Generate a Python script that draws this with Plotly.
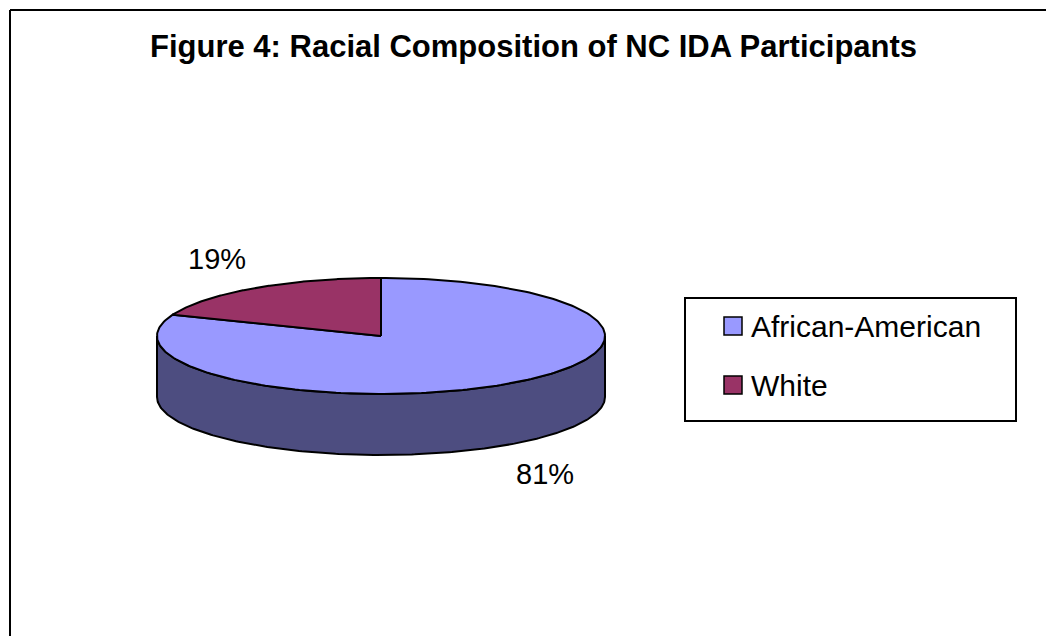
import numpy as np
import plotly.graph_objects as go

# Racial composition of NC IDA participants (percent)
categories = ["African-American", "White"]
shares = [81, 19]
top_colors = ["#9999FF", "#993366"]
side_colors = ["#4D4D80", "#4D1A33"]
title_text = "Figure 4: Racial Composition of NC IDA Participants"

W, H = 1046, 636
FONT = "Arial, Liberation Sans, sans-serif"

# geometry of the tilted pie (pixel space)
cx, cy = 381, 336
rx, ry = 224, 58
depth = 61


def rim(a0, a1, dy=0.0, n=240):
    t = np.radians(np.linspace(a0, a1, n))
    return cx + rx * np.cos(t), cy - ry * np.sin(t) + dy


total = float(sum(shares))
slices = []
start = 90.0
for cat, val, ctop, cside in zip(categories, shares, top_colors, side_colors):
    sweep = 360.0 * val / total
    slices.append((cat, val, start, start - sweep, ctop, cside))
    start -= sweep

fig = go.Figure()

# visible side walls (front half of the disc)
for cat, val, a0, a1, ctop, cside in slices:
    lo, hi = min(a0, a1), max(a0, a1)
    for f0, f1 in [(-540, -360), (-180, 0), (180, 360)]:
        s0, s1 = max(lo, f0), min(hi, f1)
        if s1 - s0 <= 0:
            continue
        tx, ty = rim(s0, s1)
        bx, by = rim(s1, s0, depth)
        fig.add_trace(go.Scatter(
            x=np.concatenate([tx, bx, tx[:1]]),
            y=np.concatenate([ty, by, ty[:1]]),
            mode="lines", fill="toself", fillcolor=cside,
            line=dict(color="black", width=2), hoverinfo="skip",
            showlegend=False))

# top faces
for cat, val, a0, a1, ctop, cside in slices:
    tx, ty = rim(a0, a1)
    fig.add_trace(go.Scatter(
        x=np.concatenate([[cx], tx, [cx]]),
        y=np.concatenate([[cy], ty, [cy]]),
        mode="lines", fill="toself", fillcolor=ctop,
        line=dict(color="black", width=2), name=cat,
        hoverinfo="name", showlegend=False))

annotations = [dict(x=533, y=46, text="<b>" + title_text + "</b>", showarrow=False,
                    xref="x", yref="y", font=dict(family=FONT, size=31, color="black"))]

# percentage labels placed outside each slice
for cat, val, a0, a1, ctop, cside in slices:
    mid = np.radians((a0 + a1) / 2)
    lx = cx + 1.3 * rx * np.cos(mid)
    ly = cy - 1.6 * ry * np.sin(mid)
    if np.sin(mid) < 0:
        ly += depth
    annotations.append(dict(x=lx, y=ly, text=f"{val:g}%", showarrow=False,
                            xref="x", yref="y", xanchor="center", yanchor="middle",
                            font=dict(family=FONT, size=29, color="black")))

shapes = [
    # chart frame
    dict(type="line", x0=10, y0=10, x1=W, y1=10, line=dict(color="black", width=2)),
    dict(type="line", x0=10, y0=10, x1=10, y1=H, line=dict(color="black", width=2)),
    # legend box
    dict(type="rect", x0=685, y0=298, x1=1016, y1=421,
         line=dict(color="black", width=2), fillcolor="white"),
]

legend_y = [326, 385]
for cat, ctop, ly in zip(categories, top_colors, legend_y):
    shapes.append(dict(type="rect", x0=724, y0=ly - 9, x1=742, y1=ly + 9,
                       line=dict(color="black", width=1.5), fillcolor=ctop))
    annotations.append(dict(x=749, y=ly, text=cat, showarrow=False, xref="x", yref="y",
                            xanchor="left", yanchor="middle",
                            font=dict(family=FONT, size=30, color="black")))

fig.update_layout(
    width=W, height=H,
    margin=dict(l=0, r=0, t=0, b=0),
    paper_bgcolor="white", plot_bgcolor="white",
    xaxis=dict(range=[0, W], visible=False, fixedrange=True),
    yaxis=dict(range=[H, 0], visible=False, fixedrange=True),
    shapes=shapes, annotations=annotations,
    showlegend=False,
)

fig.write_html("out.html")
